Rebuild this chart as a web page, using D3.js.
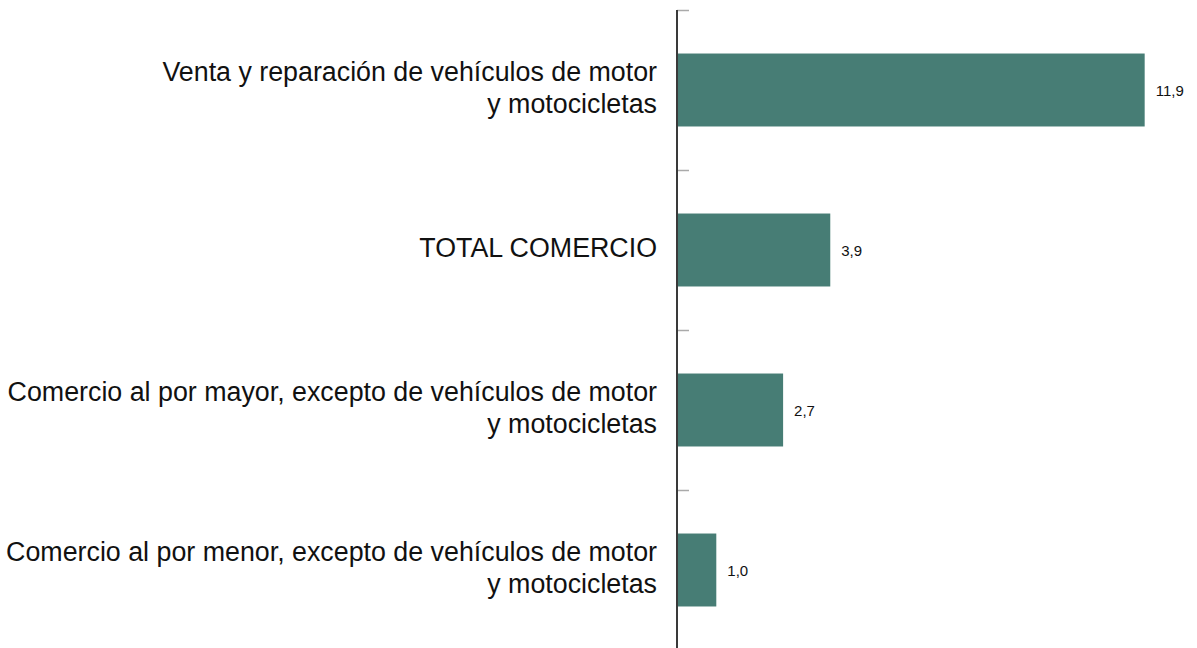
<!doctype html>
<html lang="es">
  <head>
    <meta charset="utf-8">
    <title>Comercio</title>
    <style>
      body {
        margin: 0;
        background: #fff;
      }
      svg text {
        font-family: "Liberation Sans", Arial, sans-serif;
        fill: #111;
      }
    </style>
  </head>
  <body>
    <div id="chart"></div>

    <script src="https://d3js.org/d3.v7.min.js"></script>
    <script>
      // categories, top to bottom (each entry = lines of the label)
      const categories = [
        ['Venta y reparación de vehículos de motor', 'y motocicletas'],
        ['TOTAL COMERCIO'],
        ['Comercio al por mayor, excepto de vehículos de motor', 'y motocicletas'],
        ['Comercio al por menor, excepto de vehículos de motor', 'y motocicletas']
      ]
      const values = [11.9, 3.9, 2.7, 1.0]
      const valueLabels = ['11,9', '3,9', '2,7', '1,0']

      const width = 1197
      const height = 648
      const axisX = 677

      const data = categories.map((c, i) => ({ key: i, lines: c, value: values[i], label: valueLabels[i] }))

      const svg = d3.select('#chart')
        .append('svg')
        .attr('width', width)
        .attr('height', height)

      const x = d3.scaleLinear()
        .domain([0, 12])
        .range([axisX, axisX + 12 * 39.3])

      const y = d3.scaleBand()
        .domain(data.map(d => d.key))
        .range([10, 650])
        .paddingInner(0.544)
        .paddingOuter(0.272)

      // bars
      svg.append('g').selectAll('rect')
        .data(data)
        .enter()
        .append('rect')
          .attr('x', x(0))
          .attr('y', d => y(d.key))
          .attr('width', d => x(d.value) - x(0))
          .attr('height', y.bandwidth())
          .attr('fill', '#477d75')

      // value labels
      svg.append('g').selectAll('text')
        .data(data)
        .enter()
        .append('text')
          .attr('x', d => x(d.value) + 11)
          .attr('y', d => y(d.key) + y.bandwidth() / 2 + 6)
          .attr('font-size', 15)
          .text(d => d.label)

      // category labels
      const labels = svg.append('g').selectAll('text')
        .data(data)
        .enter()
        .append('text')
          .attr('text-anchor', 'end')
          .attr('font-size', 26.8)
          .attr('y', d => {
            const c = y(d.key) + y.bandwidth() / 2
            return d.lines.length > 1 ? c - 9 : c + 7
          })

      labels.selectAll('tspan')
        .data(d => d.lines)
        .enter()
        .append('tspan')
          .attr('x', axisX - 20)
          .attr('dy', (l, i) => i === 0 ? 0 : 32)
          .text(l => l)

      // ticks at band boundaries
      const gap = (y.step() - y.bandwidth()) / 2
      const bounds = data.map(d => y(d.key) - gap).concat([y.range()[1]])
      svg.append('g').selectAll('line')
        .data(bounds)
        .enter()
        .append('line')
          .attr('x1', axisX)
          .attr('x2', axisX + 12)
          .attr('y1', d => d + 0.5)
          .attr('y2', d => d + 0.5)
          .attr('stroke', '#aaa')
          .attr('stroke-width', 1.5)

      // axis line
      svg.append('line')
        .attr('x1', axisX)
        .attr('x2', axisX)
        .attr('y1', y.range()[0])
        .attr('y2', height)
        .attr('stroke', '#3a3a3a')
        .attr('stroke-width', 2)
    </script>
  </body>
</html>
